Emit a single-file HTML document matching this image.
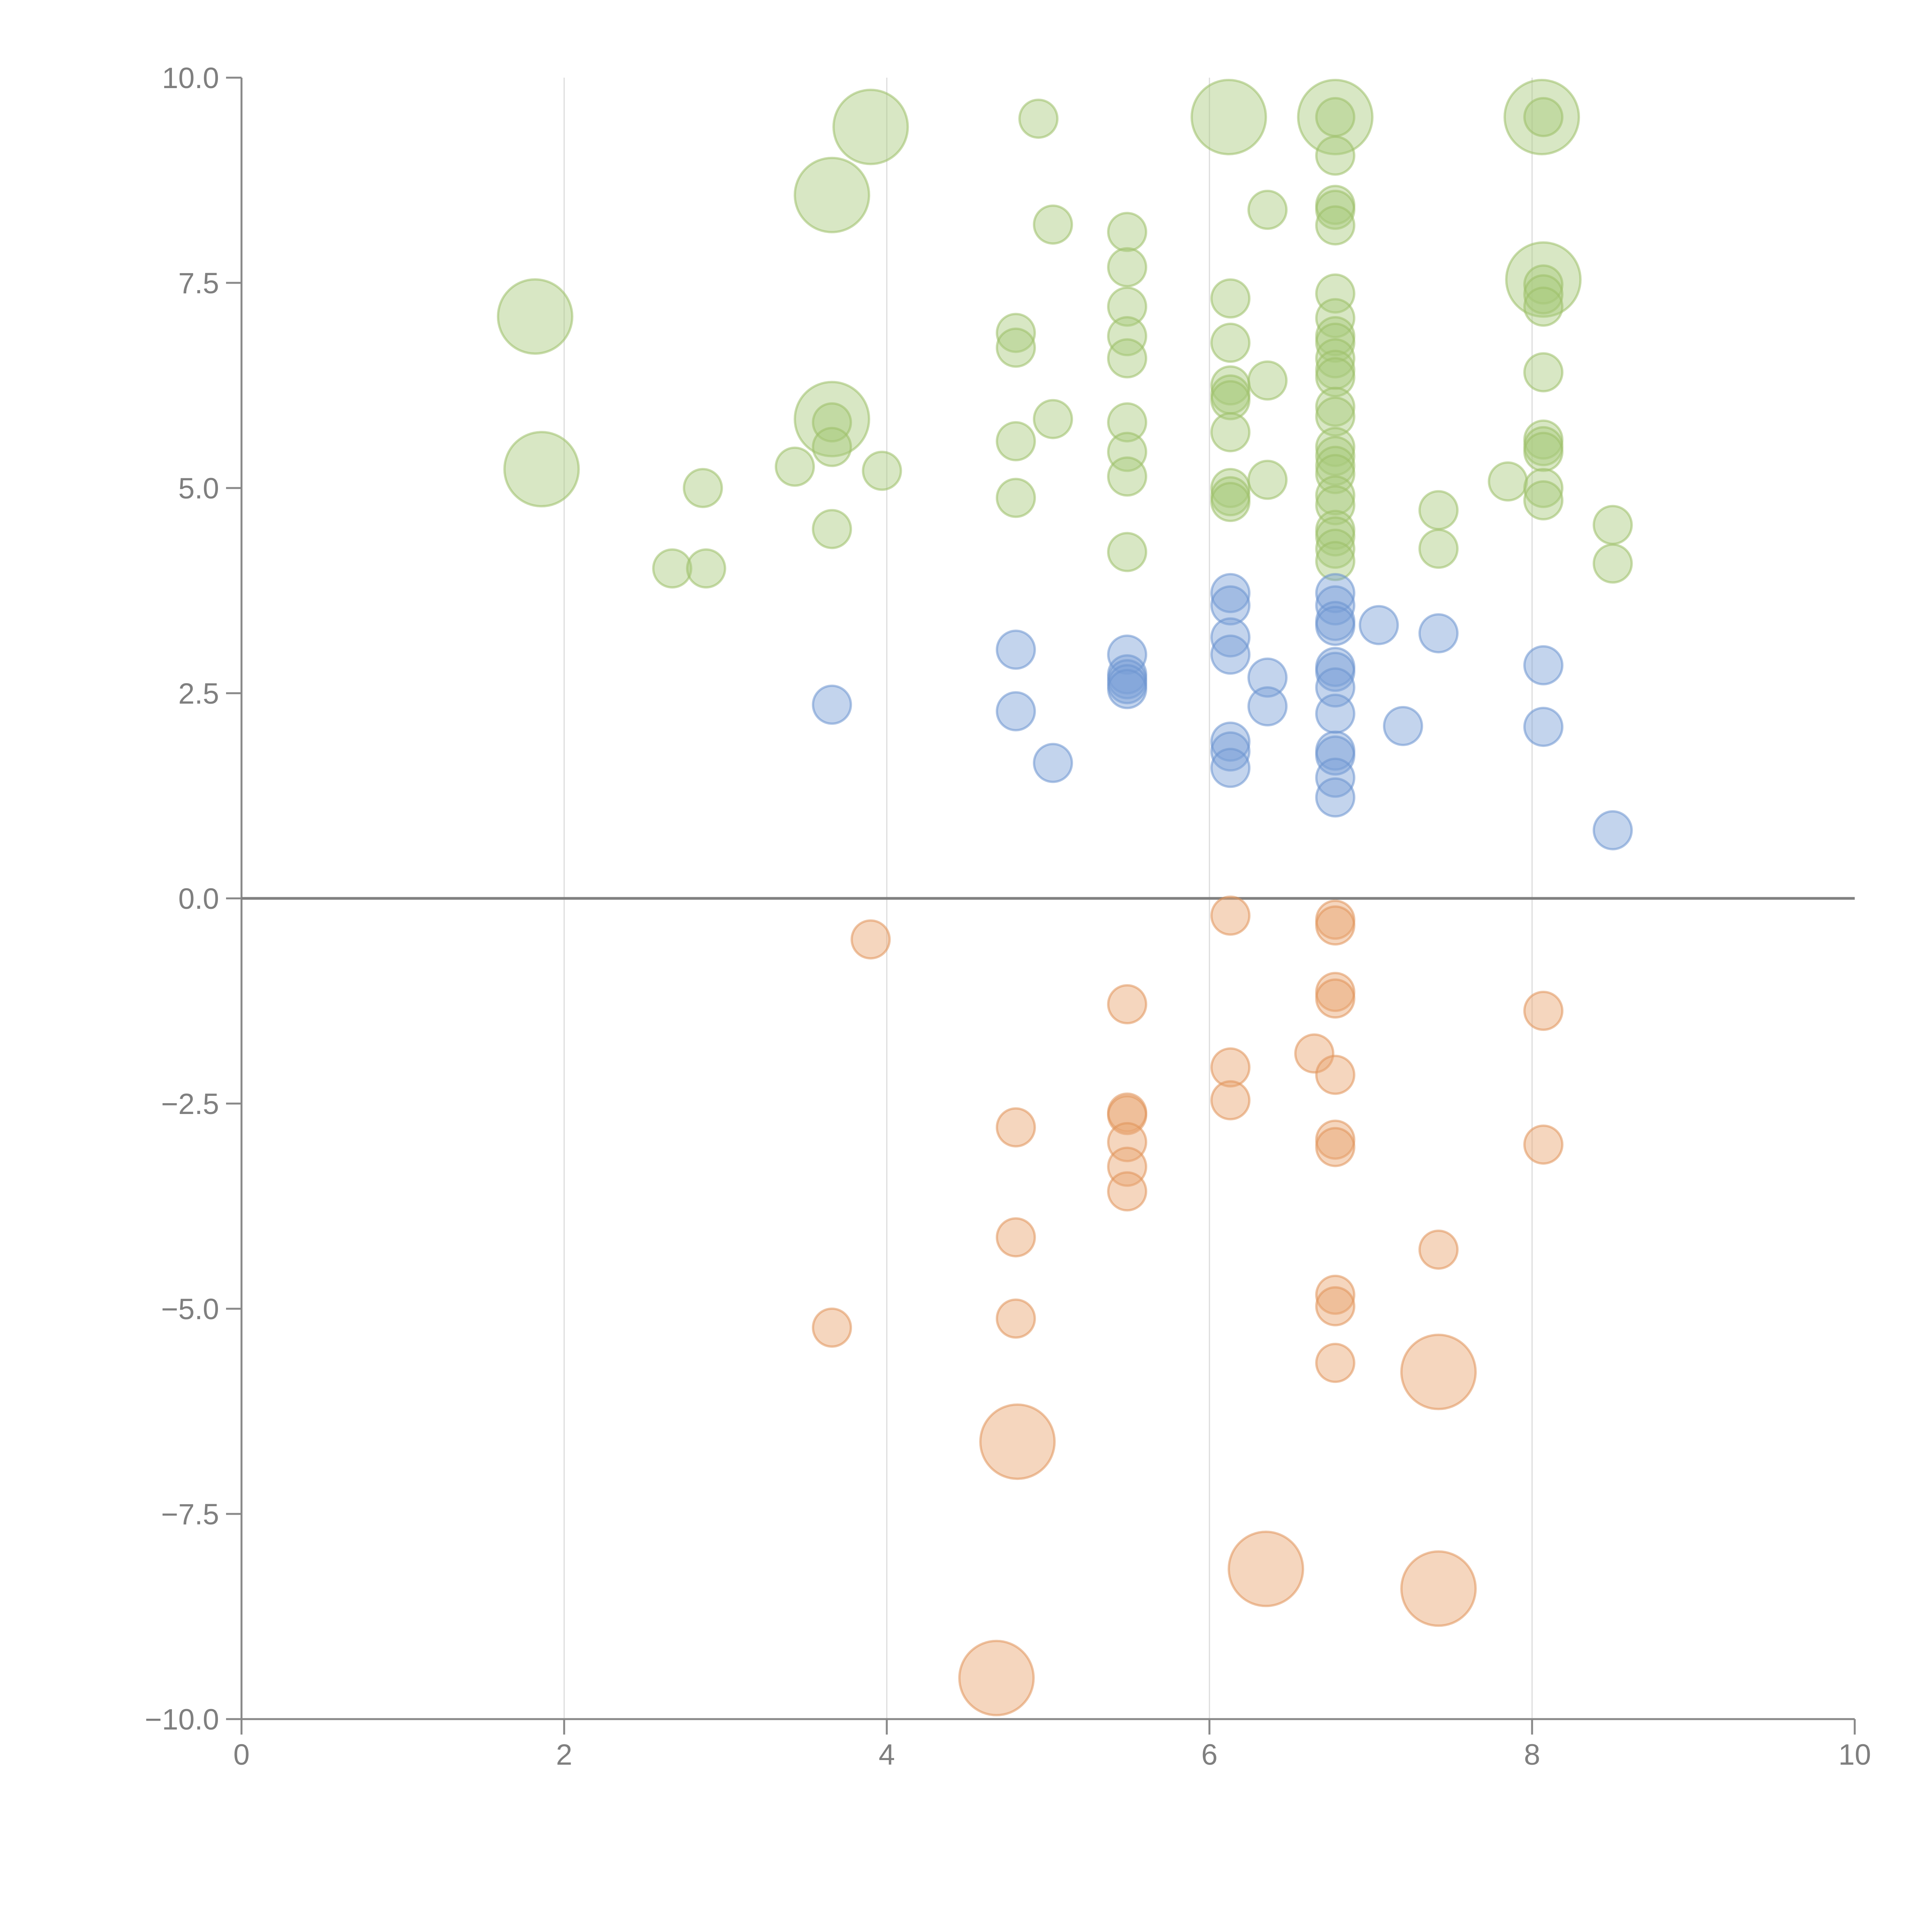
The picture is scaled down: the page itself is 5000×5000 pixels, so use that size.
<!DOCTYPE html>
<html><head><meta charset="utf-8"><style>
html,body{margin:0;padding:0;background:#fff;}
svg{display:block;}
text{font-family:"Liberation Sans",sans-serif;fill:#7f7f7f;}
</style></head><body>
<svg id="chart" width="5000" height="5000" viewBox="0 0 5000 5000">
<g id="grid"></g>
<g id="axes"></g>
<g id="marks"></g>
</svg>
<script>
const xTicks=[0,2,4,6,8,10];
const yTicks=[-10,-7.5,-5,-2.5,0,2.5,5,7.5,10];
const yTickLabels=["\u221210.0","\u22127.5","\u22125.0","\u22122.5","0.0","2.5","5.0","7.5","10.0"];
const greenX=[3.9,3.66,1.82,1.86,3.66,6.12,6.78,8.06,8.07,
4.94,3.66,3.66,3.66,3.43,3.97,2.86,2.67,2.88,4.8,4.8,4.8,4.8,5.03,5.03,
5.49,5.49,5.49,5.49,5.49,5.49,5.49,5.49,5.49,
6.13,6.13,6.13,6.13,6.13,6.13,6.13,6.13,6.13,6.36,6.36,6.36,
6.78,6.78,6.78,6.78,6.78,6.78,6.78,6.78,6.78,6.78,6.78,6.78,6.78,6.78,6.78,6.78,6.78,6.78,6.78,6.78,6.78,6.78,6.78,6.78,
7.42,7.42,7.85,8.07,8.07,8.07,8.07,8.07,8.07,8.07,8.07,8.07,8.07,8.5,8.5];
const greenY=[9.4,8.57,7.09,5.23,5.84,9.52,9.52,9.52,7.54,
9.5,5.8,5.5,4.5,5.26,5.21,5.0,4.02,4.02,6.89,6.71,5.57,4.88,8.21,5.84,
8.12,7.69,7.21,6.85,6.58,5.8,5.44,5.14,4.22,
7.31,6.77,6.25,6.14,6.07,5.68,5.0,4.9,4.83,8.39,6.31,5.1,
9.52,9.05,8.45,8.39,8.2,7.37,7.07,6.85,6.77,6.58,6.44,6.35,5.99,5.87,5.5,5.39,5.27,5.17,4.91,4.79,4.49,4.41,4.26,4.11,
4.73,4.26,5.08,9.52,7.48,7.36,7.21,6.41,5.59,5.51,5.44,5.0,4.85,4.55,4.08];
const greenBig=[1,1,1,1,1,1,1,1,1];
const blueX=[3.66,4.8,4.8,5.03,5.49,5.49,5.49,5.49,5.49,
6.13,6.13,6.13,6.13,6.13,6.13,6.13,6.36,6.36,
6.78,6.78,6.78,6.78,6.78,6.78,6.78,6.78,6.78,6.78,6.78,6.78,
7.05,7.2,7.42,8.07,8.07,8.5];
const blueY=[2.36,3.03,2.28,1.65,2.97,2.73,2.67,2.61,2.55,
3.72,3.57,3.18,2.97,1.91,1.79,1.59,2.69,2.34,
3.72,3.57,3.38,3.32,2.82,2.76,2.57,2.25,1.8,1.74,1.47,1.23,
3.33,2.1,3.23,2.84,2.09,0.83];
const orangeX=[4.81,6.35,7.42,7.42,4.68,
3.9,3.66,4.8,4.8,4.8,5.49,5.49,5.49,5.49,5.49,5.49,6.13,6.13,6.13,6.65,
6.78,6.78,6.78,6.78,6.78,6.78,6.78,6.78,6.78,6.78,7.42,8.07,8.07];
const orangeY=[-6.62,-8.17,-5.77,-8.41,-9.5,
-0.5,-5.23,-2.79,-4.13,-5.12,-1.29,-2.61,-2.64,-2.97,-3.27,-3.57,-0.21,-2.06,-2.46,-1.89,
-0.26,-0.33,-1.14,-1.22,-2.15,-2.94,-3.03,-4.83,-4.97,-5.66,-4.28,-1.37,-3.0];
const orangeBig=[1,1,1,1,1];

const NS="http://www.w3.org/2000/svg";
const X0=625,X1=4800,Y10=201,Ym10=4449;
function sx(v){return X0+(v-0)/(10-0)*(X1-X0);}
function sy(v){return Ym10-(v+10)/20*(Ym10-Y10);}
function mk(t,a,p){const e=document.createElementNS(NS,t);for(const k in a)e.setAttribute(k,a[k]);p.appendChild(e);return e;}
const grid=document.getElementById('grid'),axes=document.getElementById('axes'),marks=document.getElementById('marks');
xTicks.forEach(v=>{if(v>0&&v<10){const l=mk('line',{x1:sx(v),x2:sx(v),y1:sy(10),y2:sy(-10),stroke:'#dcdcdc','stroke-width':3},grid);

}});
const ya=mk('line',{x1:sx(0),x2:sx(0),y1:sy(10),y2:sy(-10),stroke:'#888','stroke-width':5},axes);


const xa=mk('line',{x1:sx(0)-40,x2:sx(10),y1:sy(-10),y2:sy(-10),stroke:'#888','stroke-width':5},axes);


const zl=mk('line',{x1:sx(0),x2:sx(10),y1:sy(0),y2:sy(0),stroke:'#808080','stroke-width':7},axes);


yTicks.forEach((v,i)=>{
 const t=mk('line',{x1:sx(0)-40,x2:sx(0),y1:sy(v),y2:sy(v),stroke:'#888','stroke-width':5},axes);
 
 
 const tx=mk('text',{x:sx(0)-58,y:sy(v)+27,'text-anchor':'end','font-size':76},axes);
 tx.textContent=yTickLabels[i];
 
 
});
xTicks.forEach(v=>{
 const t=mk('line',{x1:sx(v),x2:sx(v),y1:sy(-10),y2:sy(-10)+40,stroke:'#888','stroke-width':5},axes);
 
 
 const tx=mk('text',{x:sx(v),y:sy(-10)+118,'text-anchor':'middle','font-size':76},axes);
 tx.textContent=String(v);
 
 
});
function series(xs,ys,big,fill,stroke,name){
 xs.forEach((x,i)=>{
  const r=(big[i]?96:49);
  const c=mk('circle',{cx:sx(x),cy:sy(ys[i]),r:r,fill:fill,'fill-opacity':0.45,stroke:stroke,'stroke-opacity':0.55,'stroke-width':6},marks);
  
  
 });
}
series(greenX,greenY,greenBig,'#a9c97c','#9cc068','green');
series(blueX,blueY,[],'#7a9fd6','#6b93d0','blue');
series(orangeX,orangeY,orangeBig,'#e8a46f','#e0935a','orange');
</script>
</body></html>
